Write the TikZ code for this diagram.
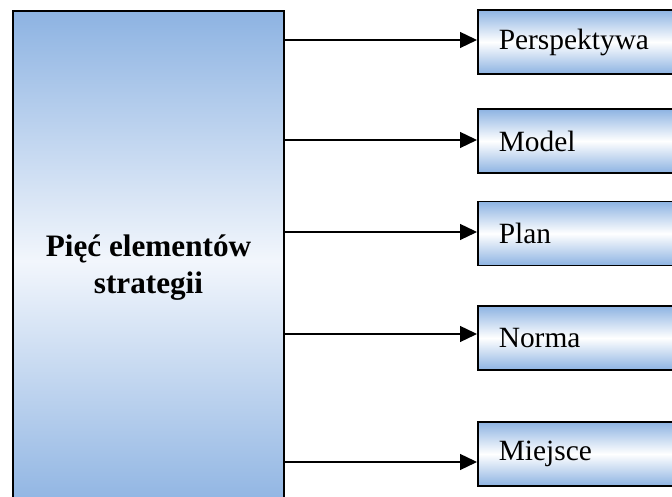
\documentclass[tikz,border=0pt]{standalone}
\usepackage{fontspec}
\setmainfont{Liberation Serif}
\usetikzlibrary{arrows.meta}
\definecolor{boxblue}{HTML}{8DB3E2}
\definecolor{boxpale}{HTML}{F2F6FC}
\tikzset{
  bigbox/.style={draw=black, line width=1.8pt, top color=boxblue, bottom color=boxblue,
    middle color=boxpale, minimum width=271pt, minimum height=500pt, inner sep=0pt},
  itembox/.style={draw=black, line width=1.6pt, top color=boxblue, bottom color=boxblue,
    middle color=white, minimum height=64pt, text width=200pt, inner xsep=21pt,
    inner ysep=0pt, align=left, anchor=west, font=\fontsize{29.4}{33}\selectfont},
  arr/.style={line width=1.3pt, -{Triangle[length=17pt,width=16pt]}}
}
\begin{document}
\begin{tikzpicture}[x=1pt,y=1pt]
\useasboundingbox (0,0) rectangle (672,497);
\clip (0,0) rectangle (672,497);
% main block on the left
\node[bigbox] (main) at (148.5,236) {};
\node[font=\bfseries\fontsize{31.2}{37}\selectfont, align=center] (title) at (148.5,229)
  {Pięć elementów\\strategii};
% the five elements
\node[itembox] (m1) at (477,455) {Perspektywa};
\node[itembox] (m2) at (477,356) {Model};
\node[itembox] (m3) at (477,263.5) {Plan};
\node[itembox] (m4) at (477,159) {Norma};
\node[itembox] (m5) at (477,43) {Miejsce};
% arrow end points on the item boxes
\coordinate (a1) at ([yshift=2pt]m1.west);
\coordinate (a2) at ([yshift=1pt]m2.west);
\coordinate (a3) at ([yshift=1.5pt]m3.west);
\coordinate (a4) at ([yshift=4pt]m4.west);
\coordinate (a5) at ([yshift=-8pt]m5.west);
\foreach \i in {1,...,5}{
  \draw[arr] (main.east |- a\i) -- (a\i);
}
\end{tikzpicture}
\end{document}
